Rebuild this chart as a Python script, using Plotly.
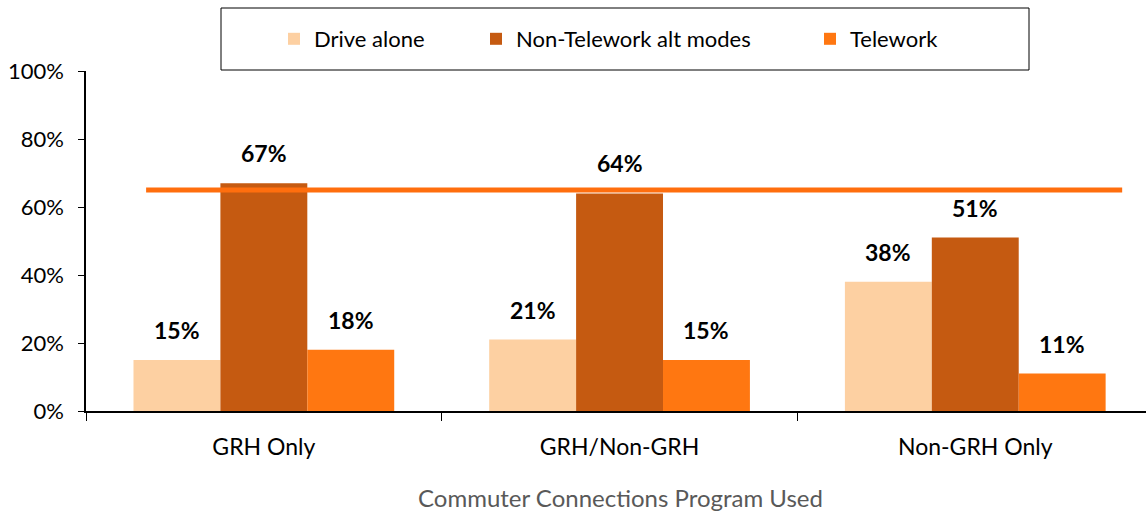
import plotly.graph_objects as go

programs = ['GRH Only', 'GRH/Non-GRH', 'Non-GRH Only']
drive_alone = [15, 21, 38]
non_telework = [67, 64, 51]
telework = [18, 15, 11]
benchmark = 65

series = [
    ('Drive alone', drive_alone, '#FDD0A2'),
    ('Non-Telework alt modes', non_telework, '#C55A11'),
    ('Telework', telework, '#FF7711'),
]

FONT = 'Lato'

W, H = 1146, 512
L, R, T, B = 86, 0, 71, 101
PW, PH = W - L - R, H - T - B
xrange_ = [-0.5, 2.48]
bargap = 0.267
cat_px = PW / (xrange_[1] - xrange_[0])
bar_px = cat_px * (1 - bargap) / 3

legend_names = ['legend', 'legend2', 'legend3']
legend_left_px = [274, 476, 810]

fig = go.Figure()
for (name, vals, col), lg in zip(series, legend_names):
    fig.add_trace(go.Bar(
        x=programs, y=vals, name=name, legend=lg,
        marker=dict(color=col, line=dict(width=0)),
    ))

# value labels above bars
for i, (name, vals, col) in enumerate(series):
    for p, v in zip(programs, vals):
        fig.add_annotation(
            x=p, y=v, text=f'<b>{v}%</b>', showarrow=False,
            xshift=(i - 1) * bar_px, yshift=14, yanchor='bottom',
            font=dict(family=FONT, size=23, color='black'),
        )

# horizontal benchmark line
fig.add_shape(type='line', xref='x', yref='y',
              x0=-0.331, x1=2.413, y0=benchmark, y1=benchmark,
              line=dict(color='#FF6E0E', width=5), layer='above')

# legend box
fig.add_shape(type='rect', xref='paper', yref='paper',
              x0=(221 - L) / PW, x1=(1029 - L) / PW,
              y0=1 + (T - 70) / PH, y1=1 + (T - 8) / PH,
              line=dict(color='black', width=1), fillcolor='rgba(0,0,0,0)')

legends = {}
for lg, px in zip(legend_names, legend_left_px):
    legends[lg] = dict(orientation='h', x=(px - L) / PW, xanchor='left',
                       y=1 + (T - 39) / PH, yanchor='middle',
                       font=dict(family=FONT, size=22),
                       bgcolor='rgba(0,0,0,0)')

fig.update_layout(
    width=W, height=H,
    margin=dict(l=L, r=R, t=T, b=B),
    plot_bgcolor='white', paper_bgcolor='white',
    barmode='group', bargap=bargap, bargroupgap=0,
    font=dict(family=FONT, size=20, color='black'),
    showlegend=True,
    **legends,
    xaxis=dict(range=xrange_, showline=True, linecolor='black', linewidth=1.5,
               ticks='outside', tickson='boundaries', ticklen=8, tickcolor='black',
               tickfont=dict(family=FONT, size=23), ticklabelstandoff=15,
               showgrid=False),
    yaxis=dict(range=[0, 100], tickvals=[0, 20, 40, 60, 80, 100],
               ticktext=['0%', '20%', '40%', '60%', '80%', '100%'],
               showline=True, linecolor='black', linewidth=1.5,
               ticks='outside', ticklen=6, tickcolor='black',
               tickfont=dict(family=FONT, size=22), ticklabelstandoff=10,
               showgrid=False, zeroline=False),
)

fig.add_annotation(text='Commuter Connections Program Used', xref='paper', yref='paper',
                   x=(620 - L) / PW, y=-(497 - (H - B)) / PH,
                   showarrow=False, yanchor='middle',
                   font=dict(family=FONT, size=24, color='#595959'))

fig.write_html('out.html', config={'displayModeBar': False},
               post_script="document.body.style.margin='0';")
